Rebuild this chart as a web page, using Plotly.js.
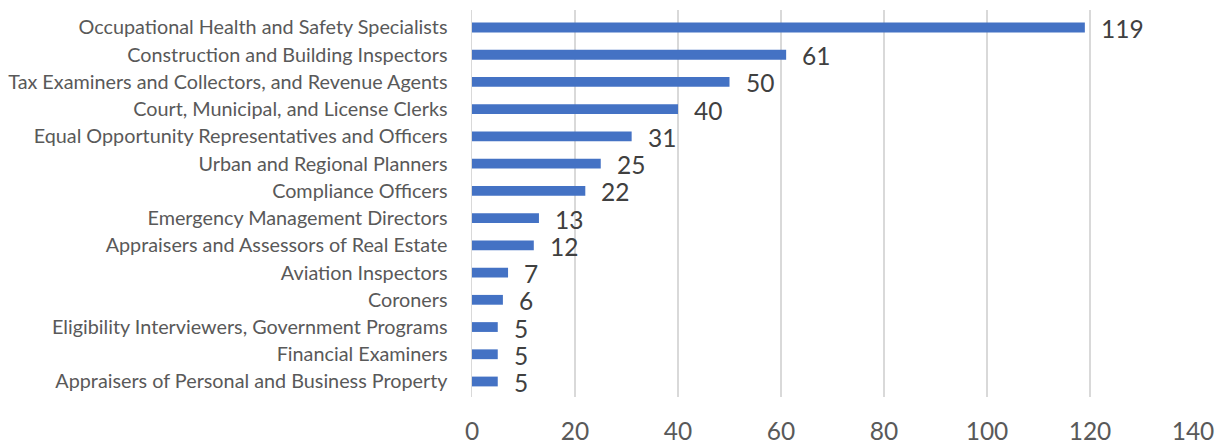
<!DOCTYPE html>
<html>
<head>
<meta charset="utf-8">
<script src="https://cdn.plot.ly/plotly-3.0.1.min.js"></script>
<style>html,body{margin:0;padding:0;background:#fff;}#chart{width:1219px;height:446px;}</style>
</head>
<body>
<div id="chart"></div>
<script>
const categories = [
  "Occupational Health and Safety Specialists",
  "Construction and Building Inspectors",
  "Tax Examiners and Collectors, and Revenue Agents",
  "Court, Municipal, and License Clerks",
  "Equal Opportunity Representatives and Officers",
  "Urban and Regional Planners",
  "Compliance Officers",
  "Emergency Management Directors",
  "Appraisers and Assessors of Real Estate",
  "Aviation Inspectors",
  "Coroners",
  "Eligibility Interviewers, Government Programs",
  "Financial Examiners",
  "Appraisers of Personal and Business Property"
];
const values = [119, 61, 50, 40, 31, 25, 22, 13, 12, 7, 6, 5, 5, 5];
const tickValues = [0, 20, 40, 60, 80, 100, 120, 140];

const FONT = "Lato, 'Open Sans', sans-serif";

const trace = {
  type: "bar",
  orientation: "h",
  x: values,
  y: categories,
  marker: {color: "#4472C4"},
  hoverinfo: "none"
};

const annotations = values.map((v, i) => ({
  x: v, y: categories[i], xref: "x", yref: "y",
  text: String(v), showarrow: false,
  xanchor: "left", yanchor: "middle", xshift: 14, yshift: -1,
  font: {family: FONT, size: 24.5, color: "#404040"}
}));

const layout = {
  width: 1219, height: 446,
  margin: {l: 472, r: 26, t: 10, b: 49},
  paper_bgcolor: "#ffffff", plot_bgcolor: "#ffffff",
  showlegend: false,
  bargap: 0.64,
  xaxis: {
    range: [0, 140], tickvals: tickValues, ticktext: tickValues.map(String),
    showgrid: true, gridcolor: "#d9d9d9", gridwidth: 1.5,
    zeroline: false, showline: false, ticks: "",
    ticklabelstandoff: 17,
    tickfont: {family: FONT, size: 24.5, color: "#595959"},
    fixedrange: true
  },
  yaxis: {
    categoryorder: "array", categoryarray: categories,
    autorange: "reversed",
    showgrid: false, zeroline: false, showline: true, linecolor: "#d9d9d9", linewidth: 1.5,
    ticks: "", ticklabelstandoff: 19,
    tickfont: {family: FONT, size: 19.8, color: "#595959"},
    fixedrange: true
  },
  annotations: annotations
};

Plotly.newPlot("chart", [trace], layout, {displayModeBar: false, staticPlot: true});
</script>
</body>
</html>
